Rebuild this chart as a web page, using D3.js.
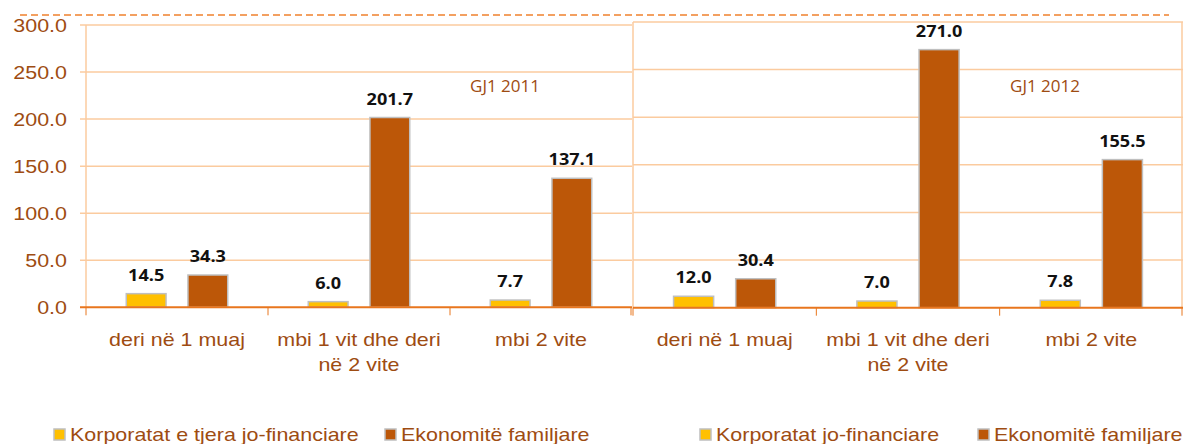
<!DOCTYPE html>
<html>
<meta charset="utf-8">
<script src="https://cdn.jsdelivr.net/npm/d3@7"></script>
<title>GJ1 2011 / GJ1 2012</title>
<style>
body { margin: 0; background: #fff; }
</style>
<body>
<script type="text/javascript">

// data
var categories = [
    ["deri në 1 muaj"],
    ["mbi 1 vit dhe deri", "në 2 vite"],
    ["mbi 2 vite"]
];
var corp2011 = [14.5, 6.0, 7.7];
var hh2011   = [34.3, 201.7, 137.1];
var corp2012 = [12.0, 7.0, 7.8];
var hh2012   = [30.4, 271.0, 155.5];
var yTicks = [0, 50, 100, 150, 200, 250, 300];
var period2011 = "GJ1 2011";
var period2012 = "GJ1 2012";
var legend2011 = ["Korporatat e tjera jo-financiare", "Ekonomitë familjare"];
var legend2012 = ["Korporatat jo-financiare", "Ekonomitë familjare"];

var size = { width: 1184, height: 444 };
var colors = ["#FFC000", "#BC5708"];
var brown = "#9E4C12";
var grid = "#FBCB9F";
var zeroLine = "#E8761E";
var stretch = 1.13;

var svg = d3.select("body")
    .append("svg")
    .attr("width", size.width)
    .attr("height", size.height)
    .style("font-family", "'Liberation Sans', Arial, sans-serif");

// stretched text, like the source picture
function label(g, x, y, txt, anchor) {
    return g.append("text")
        .attr("transform", "translate(" + x + "," + y + ") scale(" + stretch + ",1)")
        .attr("text-anchor", anchor || "middle")
        .text(txt);
}

// dashed line on top
svg.append("line")
    .attr("x1", 20).attr("x2", 1169)
    .attr("y1", 15).attr("y2", 15)
    .style("stroke", "#F0812E")
    .style("stroke-width", 1.7)
    .style("stroke-dasharray", "7,4");

var panels = [
    { x0: 86, x1: 632, y0: 307.3, y1: 25, corp: corp2011, hh: hh2011,
      period: period2011, px: 505, legend: legend2011,
      lx: [54, 385], yLabels: true, box: false },
    { x0: 633, x1: 1183, y0: 307.7, y1: 22, corp: corp2012, hh: hh2012,
      period: period2012, px: 1045, legend: legend2012,
      lx: [700, 978], yLabels: false, box: true }
];

panels.forEach(function(p) {
    var g = svg.append("g");

    var xScale = d3.scaleBand()
        .domain(d3.range(categories.length))
        .range([p.x0, p.x1]);
    var inner = d3.scaleBand()
        .domain([0, 1])
        .range([0, xScale.bandwidth()])
        .paddingInner(0.355)
        .paddingOuter(0.653);
    var yScale = d3.scaleLinear()
        .domain([0, 300])
        .range([p.y0, p.y1]);

    // grid
    g.selectAll(".grid")
        .data(yTicks.slice(1))
        .enter().append("line")
        .attr("x1", p.yLabels ? p.x0 - 6 : p.x0)
        .attr("x2", p.x1)
        .attr("y1", function(d) { return yScale(d); })
        .attr("y2", function(d) { return yScale(d); })
        .style("stroke", grid)
        .style("stroke-width", 1.5);

    // vertical axis line(s)
    g.append("line")
        .attr("x1", p.x0).attr("x2", p.x0)
        .attr("y1", yScale(300)).attr("y2", p.y0)
        .style("stroke", grid).style("stroke-width", 1.5);
    if (p.box) {
        g.append("line")
            .attr("x1", p.x1 - 1).attr("x2", p.x1 - 1)
            .attr("y1", yScale(300)).attr("y2", p.y0)
            .style("stroke", grid).style("stroke-width", 1.5);
    }

    if (p.yLabels) {
        var yl = g.append("g")
            .style("font-size", "19px")
            .style("fill", brown);
        yTicks.forEach(function(t) {
            label(yl, 67, yScale(t) + 7, d3.format(".1f")(t), "end");
        });
    }

    // category ticks
    var bounds = d3.range(categories.length).map(function(i) { return xScale(i); });
    bounds.push(p.x1);
    g.selectAll(".tick")
        .data(bounds)
        .enter().append("line")
        .attr("x1", function(d, i) { return i === bounds.length - 1 ? d - 1 : d; })
        .attr("x2", function(d, i) { return i === bounds.length - 1 ? d - 1 : d; })
        .attr("y1", p.y0)
        .attr("y2", p.y0 + 8)
        .style("stroke", zeroLine)
        .style("stroke-width", 1);

    // bars
    [p.corp, p.hh].forEach(function(vals, s) {
        g.selectAll(".bar" + s)
            .data(vals)
            .enter().append("rect")
            .attr("x", function(d, i) { return xScale(i) + inner(s); })
            .attr("y", function(d) { return yScale(d); })
            .attr("width", inner.bandwidth())
            .attr("height", function(d) { return p.y0 - yScale(d); })
            .style("fill", colors[s])
            .style("stroke", "#BFBFBF")
            .style("stroke-width", 1.5);

        var vl = g.append("g")
            .style("font-family", "'Open Sans', sans-serif")
            .style("font-weight", "bold")
            .style("font-size", "16px")
            .style("fill", "#111");
        vals.forEach(function(d, i) {
            label(vl, xScale(i) + inner(s) + inner.bandwidth() / 2,
                yScale(d) - 13, d3.format(".1f")(d));
        });
    });

    // zero line
    g.append("line")
        .attr("x1", p.yLabels ? p.x0 - 6 : p.x0)
        .attr("x2", p.x1)
        .attr("y1", p.y0).attr("y2", p.y0)
        .style("stroke", zeroLine)
        .style("stroke-width", 2);

    // category labels
    var cl = g.append("g")
        .style("font-size", "19px")
        .style("fill", brown);
    categories.forEach(function(lines, i) {
        lines.forEach(function(t, j) {
            label(cl, xScale(i) + xScale.bandwidth() / 2, 346 + j * 25, t);
        });
    });

    // period label
    g.append("text")
        .attr("x", p.px)
        .attr("y", 92)
        .attr("text-anchor", "middle")
        .style("font-family", "'Open Sans', sans-serif")
        .style("font-size", "17px")
        .style("fill", brown)
        .text(p.period);

    // legend
    var lg = g.append("g")
        .style("font-size", "19px")
        .style("fill", brown);
    p.legend.forEach(function(name, s) {
        lg.append("rect")
            .attr("x", p.lx[s]).attr("y", 429)
            .attr("width", 11).attr("height", 11)
            .style("fill", colors[s])
            .style("stroke", "#BFBFBF")
            .style("stroke-width", 1.5);
        label(lg, p.lx[s] + 16, 441, name, "start");
    });
});

</script>
</body>
</html>
